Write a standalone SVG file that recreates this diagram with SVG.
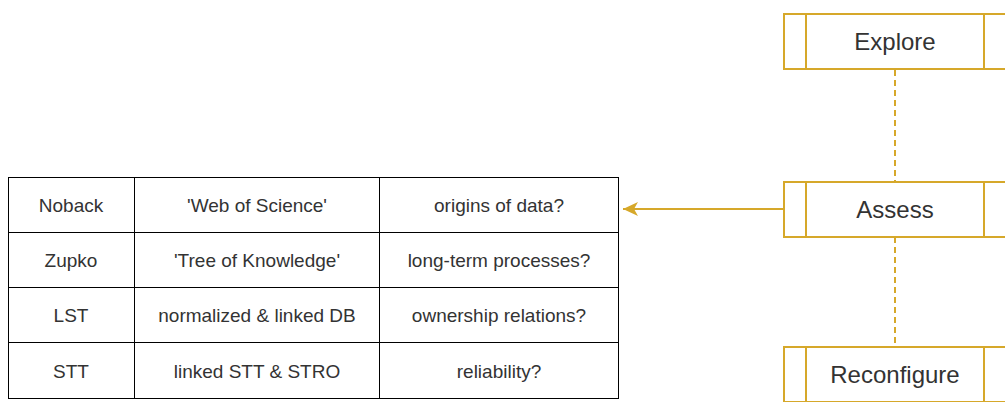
<svg xmlns="http://www.w3.org/2000/svg" width="1005" height="402" viewBox="0 0 1005 402">
<style>
.tt{font-family:"Liberation Sans",Arial,sans-serif;font-size:19px;fill:#333333;text-anchor:middle}
.proc{fill:#ffffff;stroke:#d6a82a;stroke-width:2}
.nt{font-family:"Liberation Sans",Arial,sans-serif;font-size:24px;fill:#333333;text-anchor:middle}
.dash{stroke:#d6a82a;stroke-width:2;stroke-dasharray:6 4;fill:none}
.edge{stroke:#d6a82a;stroke-width:2;fill:none}
</style>
<defs>
<marker id="ah" markerWidth="16" markerHeight="16" refX="15" refY="8" orient="auto" markerUnits="userSpaceOnUse">
<path d="M0,1 L15,8 L0,15 L4,8 Z" fill="#d6a82a"/>
</marker>
</defs>
<g id="table">
<rect x="8.5" y="177.5" width="610" height="221" fill="#ffffff" stroke="#000000"/>
<line x1="8.5" y1="232.5" x2="618.5" y2="232.5" stroke="#000"/>
<line x1="8.5" y1="287.5" x2="618.5" y2="287.5" stroke="#000"/>
<line x1="8.5" y1="342.5" x2="618.5" y2="342.5" stroke="#000"/>
<line x1="134.5" y1="177.5" x2="134.5" y2="398.5" stroke="#000"/>
<line x1="379.5" y1="177.5" x2="379.5" y2="398.5" stroke="#000"/>
<text class="tt" x="71" y="212">Noback</text>
<text class="tt" x="257" y="212">'Web of Science'</text>
<text class="tt" x="499" y="212">origins of data?</text>
<text class="tt" x="71" y="267">Zupko</text>
<text class="tt" x="257" y="267">'Tree of Knowledge'</text>
<text class="tt" x="499" y="267">long-term processes?</text>
<text class="tt" x="71" y="322">LST</text>
<text class="tt" x="257" y="322">normalized &amp; linked DB</text>
<text class="tt" x="499" y="322">ownership relations?</text>
<text class="tt" x="71" y="378">STT</text>
<text class="tt" x="257" y="378">linked STT &amp; STRO</text>
<text class="tt" x="499" y="378">reliability?</text>
</g>
<g id="connectors">
<line class="dash" x1="895" y1="70" x2="895" y2="182"/>
<line class="dash" x1="895" y1="237" x2="895" y2="347"/>
<line class="edge" x1="783" y1="209" x2="623" y2="209" marker-end="url(#ah)"/>
</g>
<g id="explore">
<rect class="proc" x="784" y="14" width="222" height="55"/>
<line class="proc" x1="806" y1="14" x2="806" y2="69"/>
<line class="proc" x1="984" y1="14" x2="984" y2="69"/>
<text class="nt" x="895" y="50">Explore</text>
</g>
<g id="assess">
<rect class="proc" x="784" y="182" width="222" height="55"/>
<line class="proc" x1="806" y1="182" x2="806" y2="237"/>
<line class="proc" x1="984" y1="182" x2="984" y2="237"/>
<text class="nt" x="895" y="218">Assess</text>
</g>
<g id="reconfigure">
<rect class="proc" x="784" y="347" width="222" height="55"/>
<line class="proc" x1="806" y1="347" x2="806" y2="402"/>
<line class="proc" x1="984" y1="347" x2="984" y2="402"/>
<text class="nt" x="895" y="383">Reconfigure</text>
</g>
</svg>
